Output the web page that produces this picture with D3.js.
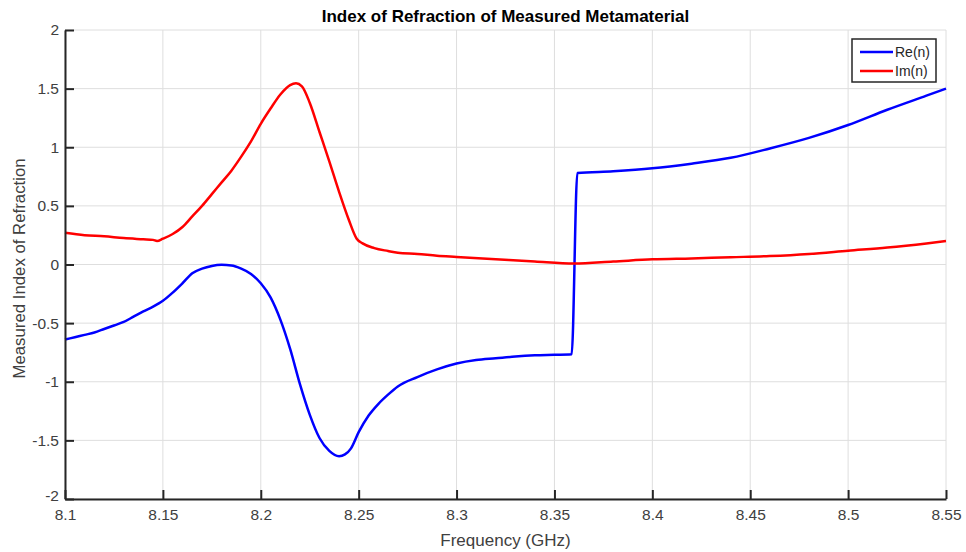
<html>
<head>
<meta charset="utf-8">
<title>Index of Refraction of Measured Metamaterial</title>
<script src="https://d3js.org/d3.v7.min.js"></script>
<style>
  body { margin: 0; padding: 0; background: #fff; }
  text { font-family: "Liberation Sans", Arial, sans-serif; }
  .grid line { stroke: #dedede; stroke-width: 1; }
  .axis path, .axis line { stroke: #262626; }
  .axis text { fill: #404040; font-size: 15.5px; }
</style>
</head>
<body>
<script>
// real part of n
var freqRe = [8.1, 8.105, 8.11, 8.115, 8.12, 8.125, 8.13, 8.135, 8.14, 8.145, 8.15, 8.155, 8.16, 8.165, 8.17, 8.175, 8.18, 8.185, 8.19, 8.195, 8.2, 8.205, 8.21, 8.215, 8.22, 8.225, 8.23, 8.235, 8.24, 8.243, 8.246, 8.25, 8.255, 8.26, 8.265, 8.27, 8.28, 8.29, 8.3, 8.31, 8.32, 8.33, 8.34, 8.35, 8.3588, 8.3617, 8.38, 8.4, 8.42, 8.44, 8.46, 8.48, 8.5, 8.52, 8.54, 8.55];
var reN = [-0.64, -0.62, -0.60, -0.58, -0.55, -0.52, -0.49, -0.445, -0.40, -0.36, -0.31, -0.24, -0.16, -0.075, -0.035, -0.012, -0.003, -0.008, -0.035, -0.08, -0.16, -0.28, -0.47, -0.72, -1.02, -1.28, -1.48, -1.59, -1.635, -1.62, -1.57, -1.43, -1.29, -1.19, -1.11, -1.04, -0.96, -0.895, -0.845, -0.815, -0.80, -0.785, -0.775, -0.77, -0.765, 0.78, 0.795, 0.82, 0.86, 0.91, 0.99, 1.08, 1.19, 1.32, 1.44, 1.50];

// imaginary part of n
var freqIm = [8.1, 8.11, 8.12, 8.13, 8.14, 8.145, 8.147, 8.15, 8.155, 8.16, 8.165, 8.17, 8.175, 8.18, 8.185, 8.19, 8.195, 8.2, 8.205, 8.21, 8.215, 8.218, 8.221, 8.225, 8.23, 8.235, 8.24, 8.245, 8.249, 8.252, 8.258, 8.265, 8.27, 8.28, 8.29, 8.3, 8.32, 8.34, 8.36, 8.38, 8.4, 8.42, 8.44, 8.46, 8.48, 8.5, 8.52, 8.54, 8.55];
var imN = [0.27, 0.25, 0.24, 0.225, 0.215, 0.21, 0.20, 0.22, 0.26, 0.32, 0.41, 0.50, 0.60, 0.70, 0.80, 0.92, 1.05, 1.20, 1.33, 1.45, 1.53, 1.545, 1.52, 1.38, 1.13, 0.88, 0.62, 0.38, 0.22, 0.18, 0.14, 0.115, 0.10, 0.09, 0.075, 0.065, 0.045, 0.025, 0.008, 0.025, 0.044, 0.052, 0.062, 0.072, 0.09, 0.118, 0.145, 0.18, 0.20];

var xTicks = [8.1, 8.15, 8.2, 8.25, 8.3, 8.35, 8.4, 8.45, 8.5, 8.55];
var yTicks = [-2, -1.5, -1, -0.5, 0, 0.5, 1, 1.5, 2];
var seriesNames = ["Re(n)", "Im(n)"];
var seriesColors = ["#0000ff", "#ff0000"];

var w = 966, h = 552;
var margin = {left: 65, top: 30, right: 20, bottom: 53};

var x = d3.scaleLinear().domain([8.1, 8.55]).range([margin.left, w - margin.right]);
var y = d3.scaleLinear().domain([-2, 2]).range([h - margin.bottom, margin.top]);

var svg = d3.select("body").append("svg")
    .attr("width", w)
    .attr("height", h);

// grid
svg.append("g").attr("class", "grid")
  .selectAll("line.v").data(xTicks).enter().append("line")
    .attr("x1", function(d) { return x(d); }).attr("x2", function(d) { return x(d); })
    .attr("y1", y(-2)).attr("y2", y(2));
svg.select(".grid")
  .selectAll("line.h").data(yTicks).enter().append("line")
    .attr("x1", x(8.1)).attr("x2", x(8.55))
    .attr("y1", function(d) { return y(d); }).attr("y2", function(d) { return y(d); });

// lines
var line = d3.line()
    .x(function(d) { return x(d[0]); })
    .y(function(d) { return y(d[1]); })
    .curve(d3.curveMonotoneX);

var series = [d3.zip(freqRe, reN), d3.zip(freqIm, imN)];
svg.selectAll("path.series").data(series).enter().append("path")
    .attr("class", "series")
    .attr("d", line)
    .attr("fill", "none")
    .attr("stroke", function(d, i) { return seriesColors[i]; })
    .attr("stroke-width", 2.5)
    .attr("stroke-linejoin", "round");

// axes, ticks inside, plain hyphen for minus
var fmt = function(d) { return String(d); };

var xAxis = svg.append("g").attr("class", "axis")
    .attr("transform", "translate(0," + y(-2) + ")")
    .call(d3.axisBottom(x).tickValues(xTicks).tickSize(-9).tickSizeOuter(0).tickFormat(fmt));
xAxis.selectAll("text").attr("y", 10);
xAxis.select(".domain").attr("stroke-width", 2);
xAxis.selectAll(".tick line").attr("stroke-width", 2);

var yAxis = svg.append("g").attr("class", "axis")
    .attr("transform", "translate(" + x(8.1) + ",0)")
    .call(d3.axisLeft(y).tickValues(yTicks).tickSize(-9).tickSizeOuter(0).tickFormat(fmt));
yAxis.selectAll("text").attr("x", -6);
yAxis.select(".domain").attr("stroke-width", 2);
yAxis.selectAll(".tick line").attr("stroke-width", 2);
yAxis.selectAll(".tick").filter(function(d) { return d === -2; })
    .select("text").attr("dy", "0.1em");
svg.selectAll(".axis").attr("font-family", null).attr("font-size", null);

// labels
svg.append("text")
    .attr("x", (x(8.1) + x(8.55)) / 2).attr("y", 22)
    .attr("text-anchor", "middle")
    .attr("font-size", "17px").attr("font-weight", "bold")
    .attr("fill", "#000")
    .text("Index of Refraction of Measured Metamaterial");

svg.append("text")
    .attr("x", (x(8.1) + x(8.55)) / 2).attr("y", 546)
    .attr("text-anchor", "middle")
    .attr("font-size", "17px")
    .attr("fill", "#404040")
    .text("Frequency (GHz)");

svg.append("text")
    .attr("transform", "translate(25," + (y(0) + 4) + ") rotate(-90)")
    .attr("text-anchor", "middle")
    .attr("font-size", "16.8px")
    .attr("fill", "#404040")
    .text("Measured Index of Refraction");

// legend
var lg = svg.append("g").attr("transform", "translate(852,39)");
lg.append("rect")
    .attr("width", 84).attr("height", 43)
    .attr("fill", "#fff").attr("stroke", "#262626").attr("stroke-width", 1.5);
var item = lg.selectAll("g.item").data(seriesNames).enter().append("g")
    .attr("transform", function(d, i) { return "translate(0," + (13 + i * 19) + ")"; });
item.append("line")
    .attr("x1", 8).attr("x2", 41)
    .attr("stroke", function(d, i) { return seriesColors[i]; })
    .attr("stroke-width", 2.5);
item.append("text")
    .attr("x", 43).attr("dy", "0.35em")
    .attr("font-size", "14px").attr("fill", "#262626")
    .text(function(d) { return d; });
</script>
</body>
</html>
